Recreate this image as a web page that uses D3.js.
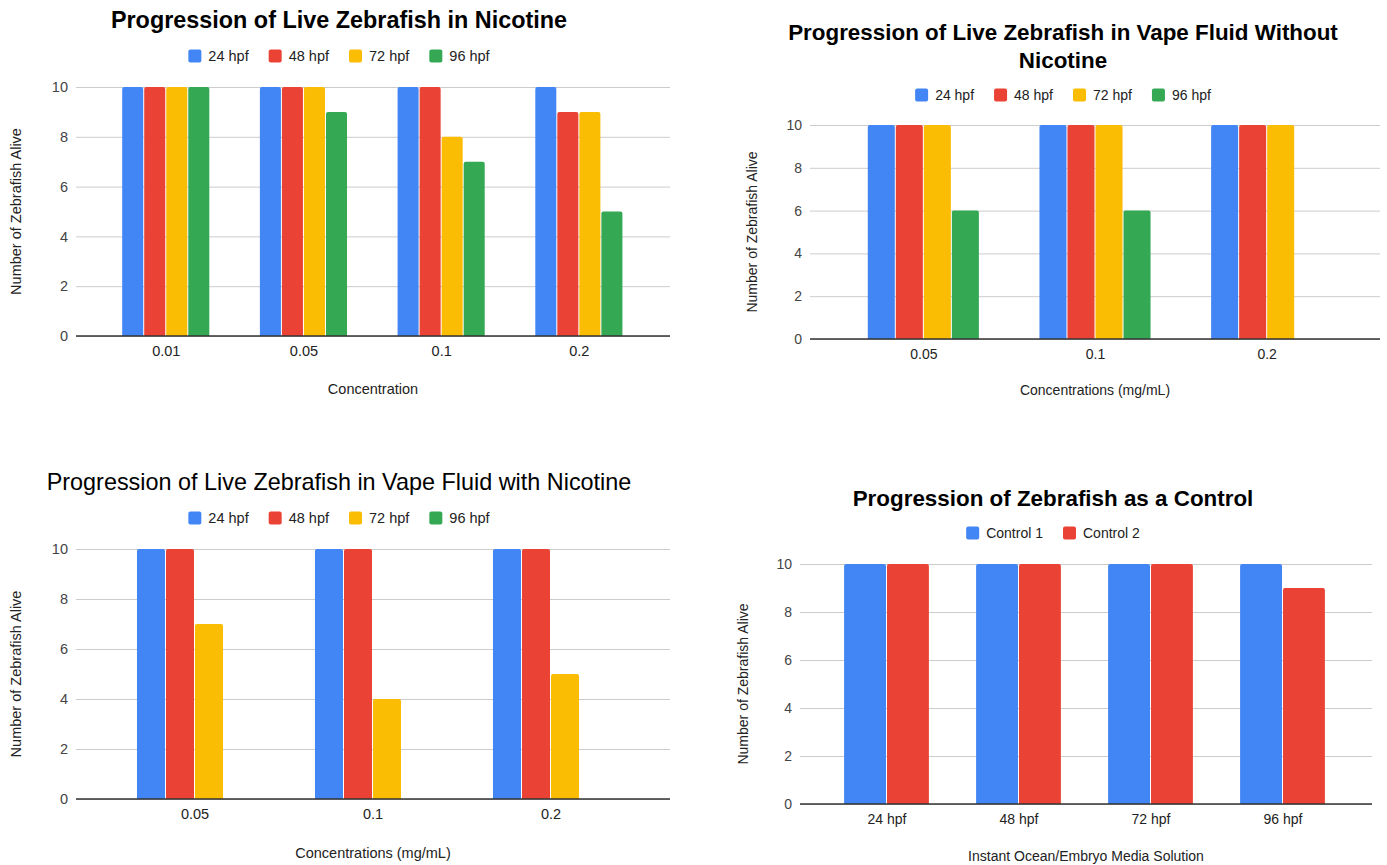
<!DOCTYPE html>
<html>
<head>
<meta charset="utf-8">
<script src="https://cdnjs.cloudflare.com/ajax/libs/d3/7.8.5/d3.min.js"></script>
<style>
  html, body { margin: 0; padding: 0; background: #fff; }
  svg { display: block; font-family: "Liberation Sans", Arial, sans-serif; }
</style>
</head>
<body>
<svg id="chart" width="1387" height="865"></svg>
<script>
// ---------- DATA ----------
const hpfSeries = ["24 hpf", "48 hpf", "72 hpf", "96 hpf"];
const controlSeries = ["Control 1", "Control 2"];
const yTicks = [0, 2, 4, 6, 8, 10];

// Panel 1: Nicotine
const nicotineCategories = ["0.01", "0.05", "0.1", "0.2"];
const nicotine24 = [10, 10, 10, 10];
const nicotine48 = [10, 10, 10, 9];
const nicotine72 = [10, 10, 8, 9];
const nicotine96 = [10, 9, 7, 5];

// Panel 2: Vape fluid without nicotine
const vapeNoNicCategories = ["0.05", "0.1", "0.2"];
const vapeNoNic24 = [10, 10, 10];
const vapeNoNic48 = [10, 10, 10];
const vapeNoNic72 = [10, 10, 10];
const vapeNoNic96 = [6, 6, 0];

// Panel 3: Vape fluid with nicotine
const vapeNicCategories = ["0.05", "0.1", "0.2"];
const vapeNic24 = [10, 10, 10];
const vapeNic48 = [10, 10, 10];
const vapeNic72 = [7, 4, 5];
const vapeNic96 = [0, 0, 0];

// Panel 4: Control
const controlCategories = ["24 hpf", "48 hpf", "72 hpf", "96 hpf"];
const control1 = [10, 10, 10, 10];
const control2 = [10, 10, 10, 9];

const hpfColors = ["#4285F4", "#EA4335", "#FBBC04", "#34A853"];
const controlColors = ["#4285F4", "#EA4335"];

// ---------- LAYOUT ----------
const panels = [
  {
    title: ["Progression of Live Zebrafish in Nicotine"], bold: true, titleSize: 23.4, textSize: 14.5,
    titleX: 339, titleY: [20], legendY: 56,
    categories: nicotineCategories, series: hpfSeries, colors: hpfColors,
    values: [nicotine24, nicotine48, nicotine72, nicotine96],
    plot: { x0: 76, x1: 670, y0: 87, y1: 336 },
    band: [97.4, 648.2], groupFrac: 0.64,
    xTitle: "Concentration", xTitleY: 389, yTitleX: 16
  },
  {
    title: ["Progression of Live Zebrafish in Vape Fluid Without", "Nicotine"], bold: true, titleSize: 22.4, textSize: 14,
    titleX: 1063, titleY: [32, 60], legendY: 95,
    categories: vapeNoNicCategories, series: hpfSeries, colors: hpfColors,
    values: [vapeNoNic24, vapeNoNic48, vapeNoNic72, vapeNoNic96],
    plot: { x0: 810, x1: 1380, y0: 125, y1: 339 },
    band: [838, 1353], groupFrac: 0.653,
    xTitle: "Concentrations (mg/mL)", xTitleY: 390, yTitleX: 752
  },
  {
    title: ["Progression of Live Zebrafish in Vape Fluid with Nicotine"], bold: false, titleSize: 23.4, textSize: 14.5,
    titleX: 339, titleY: [482], legendY: 518,
    categories: vapeNicCategories, series: hpfSeries, colors: hpfColors,
    values: [vapeNic24, vapeNic48, vapeNic72, vapeNic96],
    plot: { x0: 76, x1: 670, y0: 549, y1: 799 },
    band: [106, 640], groupFrac: 0.652,
    xTitle: "Concentrations (mg/mL)", xTitleY: 853, yTitleX: 16
  },
  {
    title: ["Progression of Zebrafish as a Control"], bold: true, titleSize: 22.4, textSize: 14,
    titleX: 1053, titleY: [498], legendY: 533,
    categories: controlCategories, series: controlSeries, colors: controlColors,
    values: [control1, control2],
    plot: { x0: 800, x1: 1372, y0: 564, y1: 804 },
    band: [821, 1349], groupFrac: 0.65,
    xTitle: "Instant Ocean/Embryo Media Solution", xTitleY: 856, yTitleX: 743
  }
];

const svg = d3.select("#chart");

function topRoundedBar(x, y, w, h, r) {
  r = Math.min(r, w / 2, h);
  return `M${x},${y + h}V${y + r}Q${x},${y} ${x + r},${y}H${x + w - r}Q${x + w},${y} ${x + w},${y + r}V${y + h}Z`;
}

panels.forEach(p => {
  const g = svg.append("g");
  const fs = p.textSize;

  // Title
  p.title.forEach((line, i) => {
    g.append("text")
      .attr("x", p.titleX).attr("y", p.titleY[i])
      .attr("text-anchor", "middle").attr("dominant-baseline", "central")
      .attr("font-size", p.titleSize).attr("font-weight", p.bold ? "bold" : "normal")
      .attr("fill", "#000").text(line);
  });

  // Legend
  const leg = g.append("g");
  let cx = 0;
  p.series.forEach((s, i) => {
    const item = leg.append("g").attr("transform", `translate(${cx},0)`);
    item.append("rect").attr("x", 0).attr("y", -6.5).attr("width", 13).attr("height", 13)
      .attr("rx", 2).attr("fill", p.colors[i]);
    const t = item.append("text").attr("x", 20).attr("y", 0)
      .attr("dominant-baseline", "central").attr("font-size", fs).attr("fill", "#222").text(s);
    const w = 20 + t.node().getComputedTextLength();
    cx += w + 20;
  });
  const legW = cx - 20;
  leg.attr("transform", `translate(${p.titleX - legW / 2},${p.legendY})`);

  // Scales
  const y = d3.scaleLinear().domain([0, 10]).range([p.plot.y1, p.plot.y0]);
  const x0 = d3.scaleBand().domain(p.categories).range(p.band).paddingInner(0).paddingOuter(0);
  const groupW = x0.step() * p.groupFrac;
  const x1 = d3.scaleBand().domain(p.series).range([0, groupW]).padding(0);

  // Gridlines
  const yAxisG = g.append("g").attr("transform", `translate(${p.plot.x0},0)`)
    .call(d3.axisLeft(y).tickValues(yTicks).tickSize(-(p.plot.x1 - p.plot.x0)).tickPadding(8));
  yAxisG.select(".domain").remove();
  yAxisG.selectAll(".tick line").attr("stroke", "#cccccc").attr("stroke-width", 1);
  yAxisG.selectAll(".tick text").attr("font-size", fs).attr("fill", "#444")
    .attr("font-family", "'Liberation Sans', Arial, sans-serif");

  // Bars
  p.categories.forEach((c, ci) => {
    const gx = x0(c) + (x0.step() - groupW) / 2;
    p.series.forEach((s, si) => {
      const v = p.values[si][ci];
      if (!v) return;
      const bx = gx + x1(s);
      const bw = x1.bandwidth() - 1;
      const by = y(v);
      const bh = y(0) - y(v);
      g.append("path").attr("d", topRoundedBar(bx, by, bw, bh, 2)).attr("fill", p.colors[si]);
    });
  });

  // Baseline + x labels
  const xAxisG = g.append("g").attr("transform", `translate(0,${p.plot.y1})`)
    .call(d3.axisBottom(x0).tickSize(0).tickPadding(10));
  xAxisG.select(".domain").remove();
  xAxisG.selectAll(".tick text").attr("font-size", fs).attr("fill", "#222")
    .attr("font-family", "'Liberation Sans', Arial, sans-serif");
  g.append("line").attr("x1", p.plot.x0).attr("x2", p.plot.x1)
    .attr("y1", y(0)).attr("y2", y(0)).attr("stroke", "#333").attr("stroke-width", 1.3);

  // Axis titles
  g.append("text").attr("x", (p.plot.x0 + p.plot.x1) / 2).attr("y", p.xTitleY)
    .attr("text-anchor", "middle").attr("dominant-baseline", "central")
    .attr("font-size", fs).attr("fill", "#222").text(p.xTitle);
  g.append("text")
    .attr("transform", `translate(${p.yTitleX},${(p.plot.y0 + p.plot.y1) / 2}) rotate(-90)`)
    .attr("text-anchor", "middle").attr("dominant-baseline", "central")
    .attr("font-size", fs).attr("fill", "#222").text("Number of Zebrafish Alive");
});
</script>
</body>
</html>
